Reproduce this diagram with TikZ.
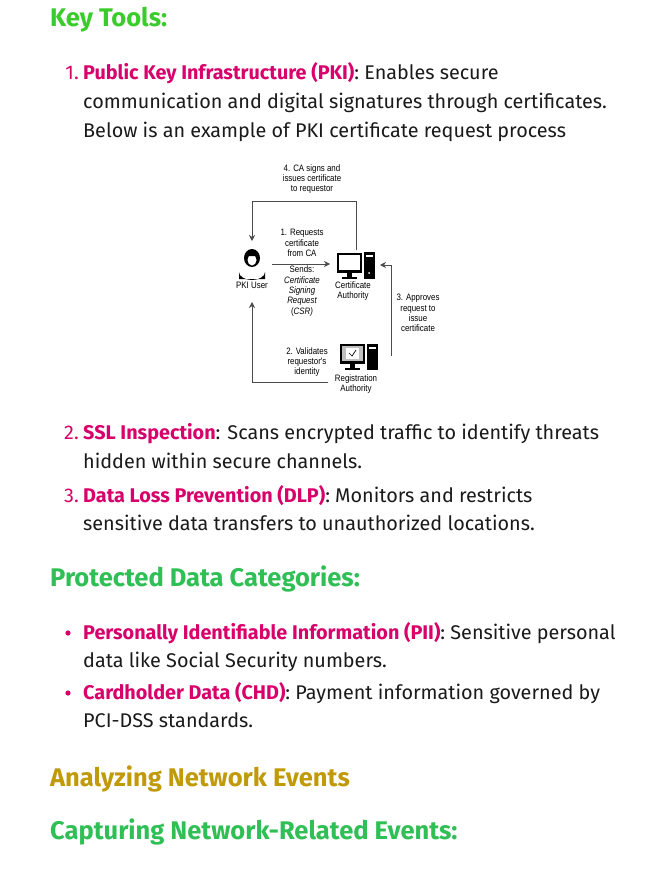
\documentclass[tikz,border=0pt]{standalone}
\usepackage{fontspec}
\setmainfont{Fira Sans}
\newfontfamily\diag{Liberation Sans}[Scale=1]
\usetikzlibrary{arrows.meta}
\definecolor{pk}{HTML}{D8006A}
\definecolor{gr}{HTML}{3ACC2A}
\definecolor{gr2}{HTML}{2FBF55}
\definecolor{ol}{HTML}{C09A08}
\definecolor{tx}{HTML}{1A1A1A}
\tikzset{
 body/.style={anchor=base west,font=\fontsize{19.8}{23}\selectfont,text=tx,inner sep=0},
 head/.style={anchor=base west,font=\fontsize{25.5}{29}\selectfont\bfseries,inner sep=0},
 dl/.style={font=\diag\fontsize{9.3}{10.3}\selectfont,align=center,inner sep=0,text=black,xscale=0.85},
 arr/.style={draw=black!70,line width=0.6pt,-{Stealth[length=6pt,width=6pt]}},
}
\newcommand{\bt}[1]{\textcolor{pk}{\bfseries #1}}
\begin{document}
\begin{tikzpicture}[x=1pt,y=-1pt]
\useasboundingbox[fill=white] (0,0) rectangle (654,872);
\node[head,text=gr] (h1) at (50,27) {Key Tools:};
\node[body,anchor=base east,text=pk] (n1) at (79,80) {1.};
\node[body] (l1a) at (83,80) {\bt{Public Key Infrastructure (PKI)}: Enables secure};
\node[body] (l1b) at (83,109) {communication and digital signatures through certificates.};
\node[body] (l1c) at (83,138) {Below is an example of PKI certificate request process};
% diagram
\node[dl] (t4) at (312,179) {4. CA signs and\\issues certificate\\to requestor};
% user icon
\node[inner sep=0,minimum size=30pt] (user) at (252,262) {};
\fill[black] (252,258) ellipse (8 and 9);
\fill[black] (239,279) -- (239,272) arc (180:0:13 and 8) -- (265,279) -- cycle;
\fill[white] (252,260) ellipse (4.5 and 5.5);
\fill[black] (246,256) -- (258,256) -- (256,253) -- (248,253) -- cycle;
\node[dl] (ul) at (252,285) {PKI User};
% CA computer
\node[inner sep=0,minimum width=40pt,minimum height=26pt] (ca) at (356,265) {};
\fill[black] (337,253) rectangle (362,273);
\fill[white] (339,255) rectangle (360,270);
\fill[black] (347,273) rectangle (352,277);
\fill[black] (342,277) rectangle (357,279);
\fill[black] (364,252) rectangle (375,279);
\fill[white] (366,255) rectangle (373,257);
\fill[white] (369,273) circle (1);
\node[dl] (cal) at (353,291) {Certificate\\Authority};
% RA computer
\node[inner sep=0,minimum width=40pt,minimum height=26pt] (ra) at (358,356) {};
\fill[black] (340,344) rectangle (365,364);
\fill[gray!50] (342,346) rectangle (363,361);
\fill[white] (346,348) rectangle (359,359);
\draw[black,line width=0.7pt] (349,353) -- (352,356) -- (356,350);
\fill[black] (350,364) rectangle (355,368);
\fill[black] (345,368) rectangle (360,370);
\fill[black] (367,344) rectangle (378,370);
\fill[white] (369,347) rectangle (376,349);
\node[dl] (ral) at (356,384) {Registration\\Authority};
% arrows
\coordinate (c4a) at (356,201);
\coordinate (c4b) at (252,201);
\draw[arr] (356,250) -- (c4a) -- (c4b) -- (252,241);
\draw[arr] (272,264) -- (330,264);
\node[dl] (t1) at (302,243) {1. Requests\\certificate\\from CA};
\node[dl] (t1b) at (302,291) {Sends:\\\itshape Certificate\\\itshape Signing\\\itshape Request\\(\itshape CSR)};
\draw[arr] (391,356) -- (391,265) -- (380,265);
\node[dl] (t3) at (418,313) {3. Approves\\request to\\issue\\certificate};
\draw[arr] (328,382) -- (252,382) -- (252,302);
\node[dl] (t2) at (307,362) {2. Validates\\requestor's\\identity};
% items 2,3
\node[body,anchor=base east,text=pk] (n2) at (79,439) {2.};
\node[body] (l2a) at (83,439) {\bt{SSL Inspection}: Scans encrypted traffic to identify threats};
\node[body] (l2b) at (83,468) {hidden within secure channels.};
\node[body,anchor=base east,text=pk] (n3) at (79,502) {3.};
\node[body] (l3a) at (83,502) {\bt{Data Loss Prevention (DLP)}: Monitors and restricts};
\node[body] (l3b) at (83,530) {sensitive data transfers to unauthorized locations.};
\node[head,text=gr2] (h2) at (50,586) {Protected Data Categories:};
\fill[pk] (68,633) circle (2.6);
\node[body] (b1a) at (83,639) {\bt{Personally Identifiable Information (PII)}: Sensitive personal};
\node[body] (b1b) at (83,667) {data like Social Security numbers.};
\fill[pk] (68,693) circle (2.6);
\node[body] (b2a) at (83,699) {\bt{Cardholder Data (CHD)}: Payment information governed by};
\node[body] (b2b) at (83,727) {PCI-DSS standards.};
\node[head,text=ol] (h3) at (50,786) {Analyzing Network Events};
\node[head,text=gr2] (h4) at (50,839) {Capturing Network-Related Events:};
\end{tikzpicture}
\end{document}
